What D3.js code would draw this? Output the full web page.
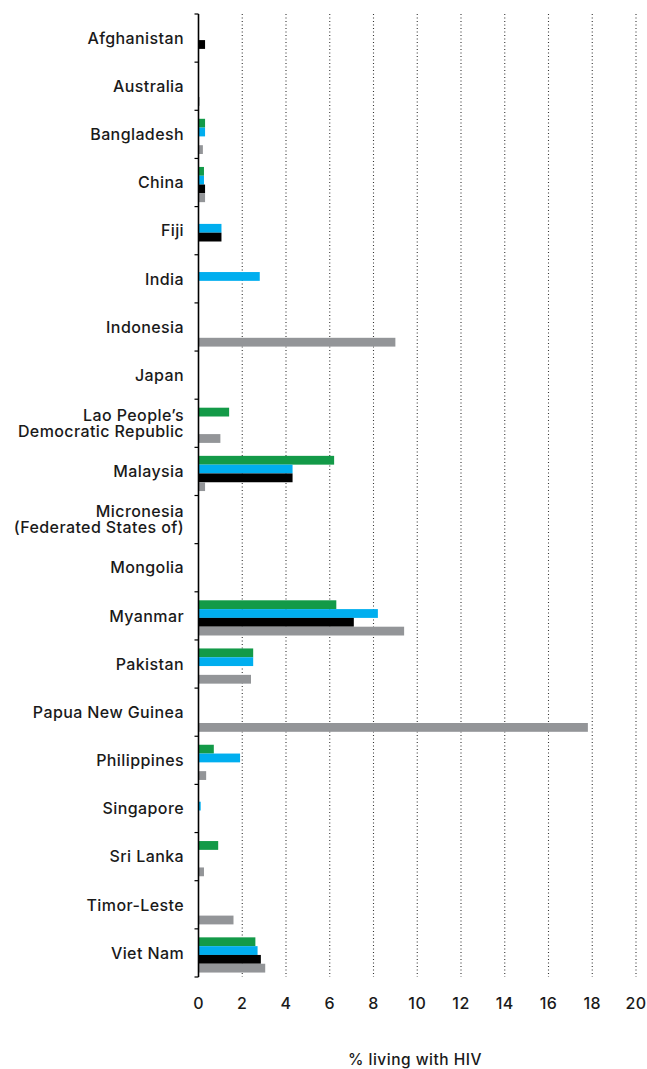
<!DOCTYPE html>
<html>
<head>
<meta charset="utf-8">
<script src="https://cdn.jsdelivr.net/npm/d3@7"></script>
<style>
  html, body { margin: 0; padding: 0; background: #fff; }
  text { font-family: Inter, "Open Sans", sans-serif; fill: #1a1a1a; }
</style>
</head>
<body>
<svg id="chart" width="647" height="1069"></svg>
<script>
const countries = ["Afghanistan","Australia","Bangladesh","China","Fiji","India","Indonesia","Japan",
  "Lao People\u2019s\nDemocratic Republic","Malaysia","Micronesia\n(Federated States of)","Mongolia",
  "Myanmar","Pakistan","Papua New Guinea","Philippines","Singapore","Sri Lanka","Timor-Leste","Viet Nam"];
const seriesKeys = ["green","blue","black","gray"];
const seriesColors = ["#139a48","#00aeef","#000000","#939598"];
const greenValues = [null,null,0.3,0.25,null,null,null,null,1.4,6.2,null,null,6.3,2.5,null,0.7,null,0.9,null,2.6];
const blueValues  = [null,null,0.3,0.25,1.05,2.8,null,null,null,4.3,null,null,8.2,2.5,null,1.9,0.1,null,null,2.7];
const blackValues = [0.3,null,null,0.3,1.05,null,null,null,null,4.3,null,null,7.1,null,null,null,null,null,null,2.85];
const grayValues  = [null,0.05,0.2,0.3,null,null,9.0,null,1.0,0.3,null,null,9.4,2.4,17.8,0.35,null,0.25,1.6,3.05];
const xTicks = [0,2,4,6,8,10,12,14,16,18,20];
const xTitle = "% living with HIV";

const seriesValues = [greenValues, blueValues, blackValues, grayValues];
const svg = d3.select("#chart");

const plotTop = 14, plotBottom = 977, plotLeft = 198.5, plotRight = 636;
const x = d3.scaleLinear().domain([0, 20]).range([plotLeft, plotRight]);
const y = d3.scaleBand().domain(countries).range([plotTop, plotBottom]).padding(0);
const ySub = d3.scaleBand().domain(seriesKeys)
  .range([8.5, 8.5 + 4 * 8.8]).padding(0);

// gridlines
svg.append("g").selectAll("line")
  .data(xTicks.filter(d => d > 0))
  .join("line")
  .attr("x1", d => x(d)).attr("x2", d => x(d))
  .attr("y1", plotTop).attr("y2", plotBottom)
  .attr("stroke", "#333").attr("stroke-width", 1.1)
  .attr("stroke-dasharray", "1.1,2.4");

// bars
const rows = [];
countries.forEach((c, i) => {
  seriesKeys.forEach((k, j) => {
    const v = seriesValues[j][i];
    if (v != null) rows.push({country: c, key: k, value: v, color: seriesColors[j]});
  });
});
svg.append("g").selectAll("rect")
  .data(rows)
  .join("rect")
  .attr("x", x(0))
  .attr("y", d => y(d.country) + ySub(d.key))
  .attr("width", d => x(d.value) - x(0))
  .attr("height", ySub.bandwidth())
  .attr("fill", d => d.color);

// y axis line and ticks
const yAxisG = svg.append("g");
yAxisG.append("line")
  .attr("x1", plotLeft).attr("x2", plotLeft)
  .attr("y1", plotTop).attr("y2", plotBottom)
  .attr("stroke", "#000").attr("stroke-width", 1.6);
const boundaries = countries.map(c => y(c)).concat([plotBottom]);
yAxisG.selectAll("line.tk").data(boundaries).join("line")
  .attr("class", "tk")
  .attr("x1", plotLeft - 4).attr("x2", plotLeft)
  .attr("y1", d => d).attr("y2", d => d)
  .attr("stroke", "#000").attr("stroke-width", 1.2);

// category labels
const labG = svg.append("g");
countries.forEach(c => {
  const lines = c.split("\n");
  const cy = y(c) + y.bandwidth() / 2;
  const lh = 16;
  lines.forEach((ln, i) => {
    labG.append("text")
      .attr("text-anchor", "end")
      .attr("font-size", 16)
      .attr("font-weight", 500)
      .attr("letter-spacing", 0.4)
      .attr("x", 184)
      .attr("y", cy + (i - (lines.length - 1) / 2) * lh)
      .attr("dy", "0.36em")
      .text(ln);
  });
});

// x tick labels
svg.append("g").selectAll("text")
  .data(xTicks)
  .join("text")
  .attr("x", d => x(d))
  .attr("y", 1003)
  .attr("dy", "0.36em")
  .attr("text-anchor", "middle")
  .attr("font-size", 16)
  .attr("font-weight", 500)
  .attr("letter-spacing", 0.4)
  .text(d => d);

// x title
svg.append("text")
  .attr("x", 415).attr("y", 1059)
  .attr("dy", "0.36em")
  .attr("text-anchor", "middle")
  .attr("font-size", 15.5)
  .attr("font-weight", 500)
  .attr("letter-spacing", 0.5)
  .text(xTitle);
</script>
</body>
</html>
